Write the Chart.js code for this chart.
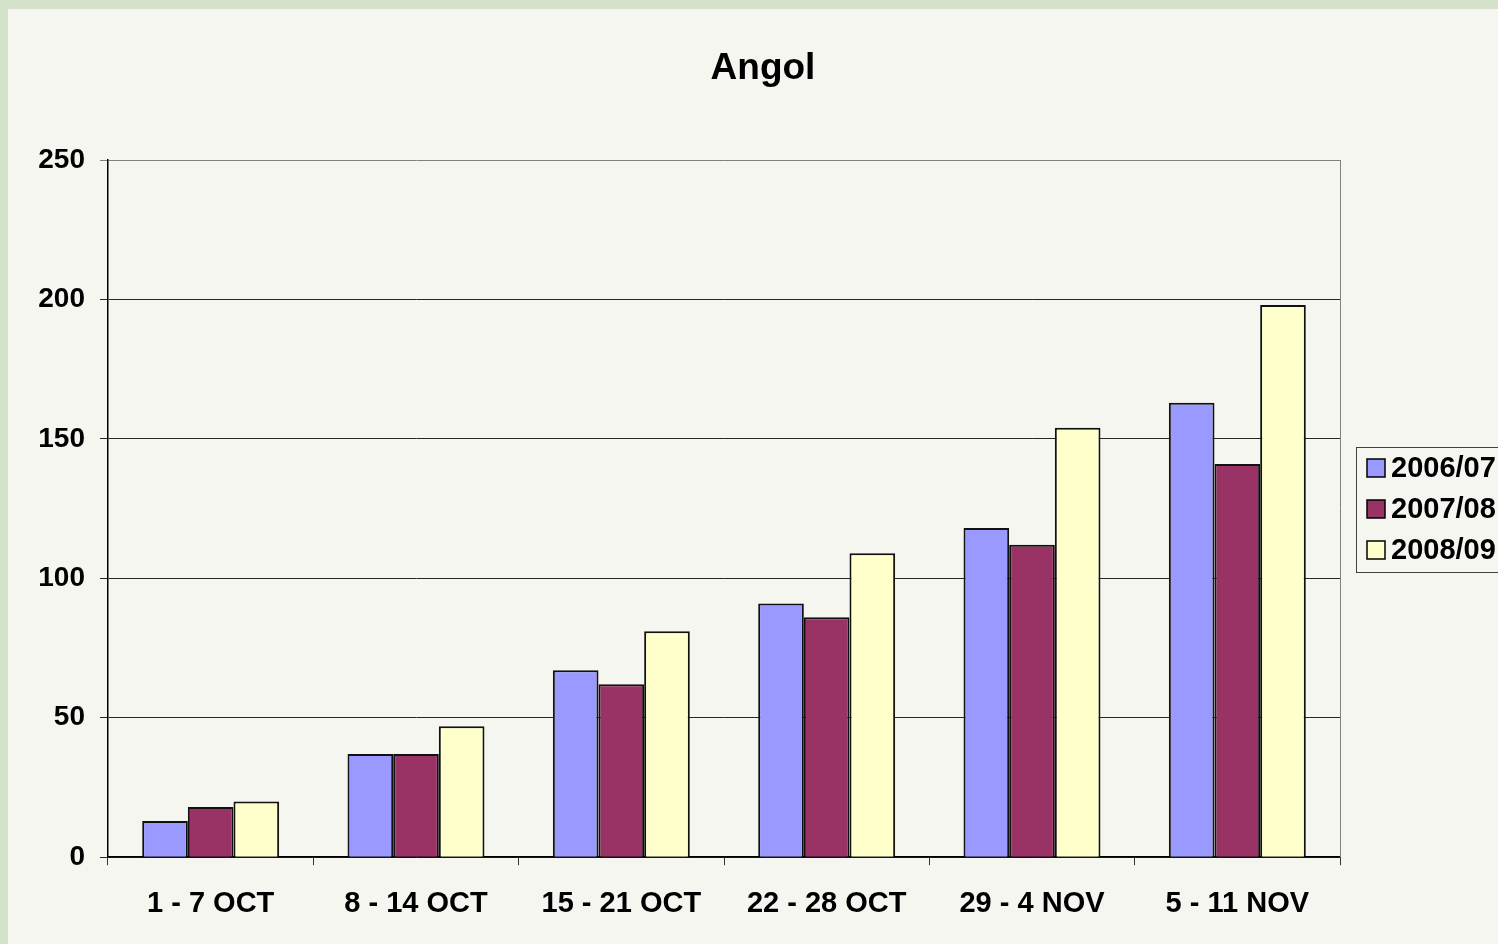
<!DOCTYPE html>
<html>
<head>
<meta charset="utf-8">
<script src="https://cdn.jsdelivr.net/npm/chart.js@4/dist/chart.umd.min.js"></script>
<style>
  html, body { margin: 0; padding: 0; background: #d3e2c8; }
  #wrap { position: absolute; left: 0; top: 0; width: 1498px; height: 944px; }
</style>
</head>
<body>
<div id="wrap"><canvas id="angolChart" width="1498" height="944"></canvas></div>
<script>
const weeks = ['1 - 7 OCT', '8 - 14 OCT', '15 - 21 OCT', '22 - 28 OCT', '29 - 4 NOV', '5 - 11 NOV'];
const season0607 = [13, 37, 67, 91, 118, 163];
const season0708 = [18, 37, 62, 86, 112, 141];
const season0809 = [20, 47, 81, 109, 154, 198];
const seasonLabels = ['2006/07', '2007/08', '2008/09'];
const chartTitle = 'Angol';

const blue = '#9999ff';
const maroon = '#993366';
const cream = '#ffffcc';
const font = 'Liberation Sans, Arial, sans-serif';

// fondo, título y leyenda con recuadro
const backgroundPanel = {
    id: 'backgroundPanel',
    beforeDraw(chart) {
        const ctx = chart.ctx;
        ctx.save();
        ctx.fillStyle = '#d3e2c8';
        ctx.fillRect(0, 0, chart.width, chart.height);
        ctx.fillStyle = '#f4f6ef';
        ctx.fillRect(8, 9, chart.width - 8, chart.height - 9);
        ctx.restore();
    },
    afterDraw(chart) {
        const ctx = chart.ctx;
        const a = chart.chartArea;
        ctx.save();
        ctx.fillStyle = '#000';
        ctx.font = 'bold 37px ' + font;
        ctx.textAlign = 'center';
        ctx.textBaseline = 'middle';
        ctx.fillText(chartTitle, 763, 69);

        // borde derecho del área de trazado
        ctx.strokeStyle = '#808080';
        ctx.lineWidth = 1;
        ctx.beginPath();
        ctx.moveTo(a.right + 0.5, a.top);
        ctx.lineTo(a.right + 0.5, a.bottom);
        ctx.stroke();

        const x = 1356, y = 447;
        ctx.fillStyle = '#f4f6ef';
        ctx.fillRect(x, y, 160, 125);
        ctx.strokeStyle = '#404040';
        ctx.strokeRect(x + 0.5, y + 0.5, 160, 125);
        ctx.font = 'bold 29px ' + font;
        ctx.textAlign = 'left';
        chart.data.datasets.forEach((ds, i) => {
            const cy = y + 21 + i * 41;
            ctx.fillStyle = ds.backgroundColor;
            ctx.fillRect(x + 11, cy - 9, 18, 18);
            ctx.strokeStyle = '#000';
            ctx.lineWidth = 1.5;
            ctx.strokeRect(x + 11, cy - 9, 18, 18);
            ctx.fillStyle = '#000';
            ctx.fillText(ds.label, x + 35, cy + 1);
        });
        ctx.restore();
    }
};

const colors = [blue, maroon, cream];
const seriesData = [season0607, season0708, season0809];

new Chart(document.getElementById('angolChart').getContext('2d'), {
    type: 'bar',
    data: {
        labels: weeks,
        datasets: seriesData.map((d, i) => ({
            label: seasonLabels[i],
            data: d,
            backgroundColor: colors[i],
            borderColor: '#111',
            borderWidth: 2,
            categoryPercentage: 0.667,
            barPercentage: 1
        }))
    },
    options: {
        responsive: false,
        animation: false,
        layout: { padding: { left: 0, right: 158, top: 160, bottom: 2 } },
        plugins: {
            legend: { display: false },
            tooltip: { enabled: false },
            title: { display: false }
        },
        scales: {
            x: {
                grid: {
                    drawOnChartArea: false,
                    color: '#333',
                    tickLength: 8,
                    offset: true
                },
                border: { color: '#000', width: 1.5 },
                ticks: {
                    color: '#000',
                    padding: 21,
                    font: { family: font, size: 29, weight: 'bold' },
                    maxRotation: 0
                }
            },
            y: {
                min: 0,
                max: 250,
                afterFit(scale) { scale.width = 108; },
                grid: {
                    color: ctx => ctx.tick && ctx.tick.value === 250 ? '#808080' : '#262626',
                    tickLength: 8
                },
                border: { color: '#000', width: 1.5 },
                ticks: {
                    stepSize: 50,
                    color: '#000',
                    padding: 15,
                    font: { family: font, size: 28, weight: 'bold' }
                }
            }
        }
    },
    plugins: [backgroundPanel]
});
</script>
</body>
</html>
